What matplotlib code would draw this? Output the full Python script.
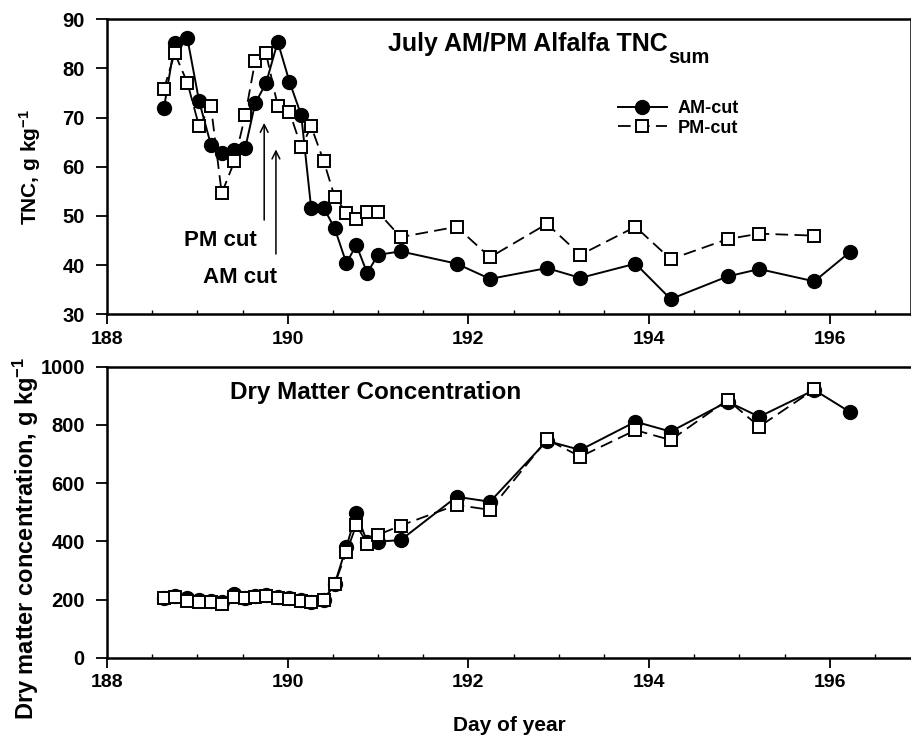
import numpy as np
import matplotlib
matplotlib.use('Agg')
import matplotlib.pyplot as plt
from matplotlib.ticker import MultipleLocator

plt.rcParams['font.family'] = ['Liberation Sans', 'DejaVu Sans']
plt.rcParams['font.weight'] = 'bold'
plt.rcParams['mathtext.fontset'] = 'custom'
plt.rcParams['mathtext.rm'] = 'Liberation Sans:bold'
plt.rcParams['mathtext.bf'] = 'Liberation Sans:bold'
plt.rcParams['mathtext.it'] = 'Liberation Sans:bold'

# day of year for each sample (AM and PM cut sampled together)
days = [188.63, 188.75, 188.89, 189.02, 189.15, 189.27, 189.41, 189.53, 189.64,
        189.76, 189.89, 190.02, 190.15, 190.26, 190.40, 190.52, 190.65, 190.76,
        190.88, 191.00, 191.25, 191.87, 192.24, 192.87, 193.24, 193.85, 194.24,
        194.87, 195.22, 195.83, 196.22]

tnc_am = [71.9, 85.1, 86.1, 73.3, 64.5, 62.8, 63.4, 63.8, 72.9, 77.0, 85.4,
          77.3, 70.5, 51.6, 51.6, 47.5, 40.4, 44.1, 38.4, 42.1, 42.8, 40.3,
          37.2, 39.4, 37.4, 40.3, 33.1, 37.7, 39.2, 36.7, 42.6]
tnc_pm = [75.8, 83.1, 77.1, 68.2, 72.4, 54.6, 61.1, 70.5, 81.5, 83.1, 72.4,
          71.2, 64.0, 68.2, 61.1, 53.9, 50.7, 49.4, 50.8, 50.8, 45.7, 47.8,
          41.6, 48.4, 42.1, 47.8, 41.2, 45.3, 46.4, 46.0, np.nan]

dm_am = [205, 212, 205, 200, 195, 190, 218, 205, 212, 215, 208, 205, 200, 190,
         198, 253, 381, 496, 398, 399, 404, 553, 536, 745, 714, 811, 777, 880,
         828, 920, 845]
dm_pm = [204, 210, 195, 190, 190, 185, 210, 205, 210, 212, 204, 201, 196, 192,
         200, 253, 362, 456, 392, 422, 454, 525, 508, 750, 691, 782, 748, 886,
         794, 922, np.nan]

xticks = [188, 190, 192, 194, 196]
tnc_ticks = [30, 40, 50, 60, 70, 80, 90]
dm_ticks = [0, 200, 400, 600, 800, 1000]

# cut times marked by arrows: (label, x, arrow head y, arrow tail y, text x, text y)
cuts = [('PM cut', 189.74, 69.5, 48.6, 189.25, 43.9),
        ('AM cut', 189.87, 64.1, 41.7, 189.47, 36.4)]

W, H = 912, 737
fig = plt.figure(figsize=(W / 100, H / 100), dpi=100)
left, right = 107 / W, 911 / W
ax1 = fig.add_axes([left, 1 - 314.3 / H, right - left, 295 / H])
ax2 = fig.add_axes([left, 1 - 657.7 / H, right - left, 291 / H])

am_style = dict(color='black', lw=1.4, marker='o', ms=10, mfc='black',
                mec='black', zorder=3)
pm_style = dict(color='black', lw=1.3, ls=(0, (7, 3.5)), marker='s', ms=9,
                mfc='white', mec='black', mew=1.4, zorder=4)

ax1.plot(days, tnc_am, label='AM-cut', **am_style)
ax1.plot(days, tnc_pm, label='PM-cut', **pm_style)
ax2.plot(days, dm_am, **am_style)
ax2.plot(days, dm_pm, **pm_style)

for ax in (ax1, ax2):
    ax.set_xlim(188, 196.9)
    ax.set_xticks(xticks)
    ax.xaxis.set_minor_locator(MultipleLocator(0.5))
    ax.tick_params(axis='x', which='major', direction='out', length=7,
                   width=1.3, labelsize=14, pad=5)
    ax.tick_params(axis='x', which='minor', direction='in', length=3,
                   width=1.0)
    ax.tick_params(axis='y', which='major', direction='out', length=8,
                   width=1.3, labelsize=14.5, pad=8)
    for sp in ax.spines.values():
        sp.set_linewidth(1.8)

ax2.spines['right'].set_visible(False)

ax1.set_ylim(30, 90)
ax1.set_yticks(tnc_ticks)
ax2.set_ylim(0, 1000)
ax2.set_yticks(dm_ticks)

ax1.set_ylabel(r'TNC, g kg$^{-1}$', fontsize=15, fontweight='bold')
ax1.yaxis.set_label_coords(-0.08, 0.5)
ax2.set_ylabel(r'Dry matter concentration, g kg$^{-1}$', fontsize=17,
               fontweight='bold')
ax2.yaxis.set_label_coords(-0.082, 0.41)
ax2.set_xlabel('Day of year', fontsize=15, fontweight='bold', labelpad=18)

title = fig.text(388 / W, 1 - 51 / H, 'July AM/PM Alfalfa TNC', fontsize=18,
                 fontweight='bold', ha='left', va='baseline')
fig.text(230 / W, 1 - 399 / H, 'Dry Matter Concentration', fontsize=17.5,
         fontweight='bold', ha='left', va='baseline')

# subscript drawn as its own text, as large as in the original
fig.canvas.draw()
bb = title.get_window_extent()
fig.text((bb.x1 + 1) / W, 1 - 63 / H, 'sum', fontsize=14.5, fontweight='bold',
         ha='left', va='baseline')

for label, x, y_head, y_tail, tx, ty in cuts:
    ax1.annotate('', xy=(x, y_head), xytext=(x, y_tail),
                 arrowprops=dict(arrowstyle='->', lw=1.1, color='black',
                                 mutation_scale=14))
    ax1.text(tx, ty, label, fontsize=16, fontweight='bold', ha='center',
             va='baseline')

ax1.legend(loc='upper left', bbox_to_anchor=(618 / W, 1 - 100 / H),
           bbox_transform=fig.transFigure, frameon=False, fontsize=13,
           handlelength=2.7, handletextpad=0.6, labelspacing=0.15,
           borderpad=0, borderaxespad=0)

fig.savefig('out.png', dpi=100)
